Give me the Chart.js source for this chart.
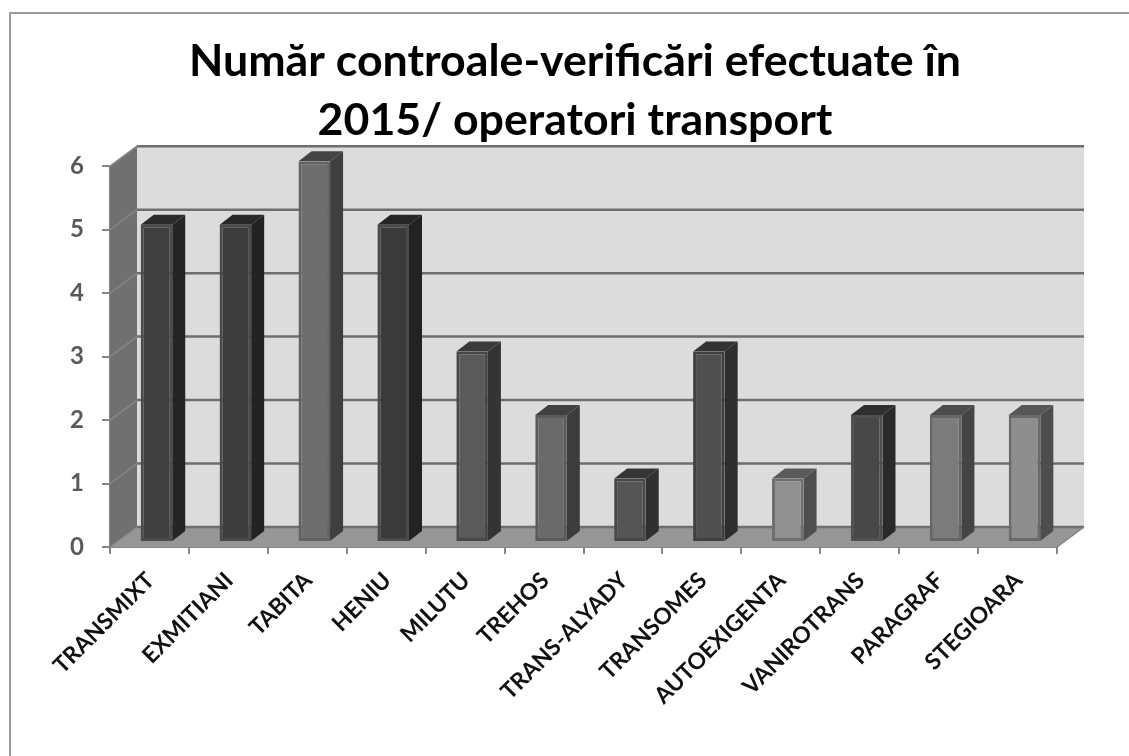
<!DOCTYPE html>
<html>
<head>
<meta charset="utf-8">
<script src="https://cdn.jsdelivr.net/npm/chart.js@4"></script>
<style>
body { margin: 0; background: #fff; }
#wrap { width: 1129px; height: 756px; }
</style>
</head>
<body>
<div id="wrap"><canvas id="operatori" width="1129" height="756"></canvas></div>
<script>
const operatori = ["TRANSMIXT", "EXMITIANI", "TABITA", "HENIU", "MILUTU", "TREHOS", "TRANS-ALYADY", "TRANSOMES", "AUTOEXIGENTA", "VANIROTRANS", "PARAGRAF", "STEGIOARA"];
const controale = [5, 5, 6, 5, 3, 2, 1, 3, 1, 2, 2, 2];
const titleLines = ["Număr controale-verificări efectuate în", "2015/ operatori transport"];

// one grey per bar, the original has them all different
const barFront = ["#404040", "#3c3c3c", "#6e6e6e", "#3a3a3a", "#5a5a5a", "#6a6a6a", "#555555", "#505050", "#919191", "#484848", "#7c7c7c", "#8e8e8e"];
const barSide = ["#252525", "#232323", "#3f3f3f", "#222222", "#343434", "#3c3c3c", "#303030", "#2e2e2e", "#4f4f4f", "#2a2a2a", "#444444", "#4d4d4d"];
const barTop = ["#2a2a2a", "#282828", "#444444", "#262626", "#3a3a3a", "#414141", "#353535", "#333333", "#5a5a5a", "#2f2f2f", "#4c4c4c", "#575757"];
const barEdge = ["#4c4c4c", "#4a4a4a", "#626262", "#4a4a4a", "#484848", "#5a5a5a", "#484848", "#404040", "#6e6e6e", "#505050", "#666666", "#6a6a6a"];

// how far the walls go back, and how far bars sit off the front plane
const wall = { dx: 27, dy: -20 };
const barShift = { dx: 7, dy: -5 };
const barDepth = { dx: 13, dy: -10 };

function poly(ctx, pts, fill) {
  ctx.beginPath();
  ctx.moveTo(pts[0][0], pts[0][1]);
  for (let i = 1; i < pts.length; i++) ctx.lineTo(pts[i][0], pts[i][1]);
  ctx.closePath();
  ctx.fillStyle = fill;
  ctx.fill();
}

const box3d = {
  id: "box3d",
  afterLayout(chart) {
    // y axis box is narrow because of the title padding, widen it or the labels get clipped
    chart.scales.y.left = 40;
  },
  beforeDraw(chart) {
    // frame of the picture, only top and left are visible in the crop
    const ctx = chart.ctx;
    ctx.save();
    ctx.strokeStyle = "#9a9a9a";
    ctx.lineWidth = 2;
    ctx.beginPath();
    ctx.moveTo(10, chart.height);
    ctx.lineTo(10, 13);
    ctx.lineTo(chart.width, 13);
    ctx.stroke();
    ctx.restore();
  },
  beforeDatasetsDraw(chart) {
    const ctx = chart.ctx;
    const a = chart.chartArea;
    const y = chart.scales.y;
    const d = wall;
    ctx.save();
    // back wall, left wall, floor
    poly(ctx, [[a.left + d.dx, a.top + d.dy], [a.right + d.dx, a.top + d.dy], [a.right + d.dx, a.bottom + d.dy], [a.left + d.dx, a.bottom + d.dy]], "#dcdcdc");
    poly(ctx, [[a.left, a.top], [a.left + d.dx, a.top + d.dy], [a.left + d.dx, a.bottom + d.dy], [a.left, a.bottom]], "#707070");
    poly(ctx, [[a.left, a.bottom], [a.left + d.dx, a.bottom + d.dy], [a.right + d.dx, a.bottom + d.dy], [a.right, a.bottom]], "#969696");
    // grid on the walls
    y.ticks.forEach(t => {
      const py = y.getPixelForValue(t.value);
      ctx.strokeStyle = "#868686";
      ctx.lineWidth = 1.5;
      ctx.beginPath();
      ctx.moveTo(a.left, py);
      ctx.lineTo(a.left + d.dx, py + d.dy);
      ctx.stroke();
      ctx.strokeStyle = "#6e6e6e";
      ctx.lineWidth = 2.5;
      ctx.beginPath();
      ctx.moveTo(a.left + d.dx, py + d.dy);
      ctx.lineTo(a.right + d.dx, py + d.dy);
      ctx.stroke();
    });
    // floor outline on the right
    ctx.strokeStyle = "#868686";
    ctx.lineWidth = 1.5;
    ctx.beginPath();
    ctx.moveTo(a.right, a.bottom);
    ctx.lineTo(a.right + d.dx, a.bottom + d.dy);
    ctx.stroke();

    // bars get drawn by chart.js, sides and tops go in first
    ctx.translate(barShift.dx, barShift.dy);
    chart.getDatasetMeta(0).data.forEach((bar, i) => {
      const l = bar.x - bar.width / 2;
      const r = bar.x + bar.width / 2;
      const q = barDepth;
      poly(ctx, [[r, bar.y], [r + q.dx, bar.y + q.dy], [r + q.dx, bar.base + q.dy], [r, bar.base]], barSide[i]);
      poly(ctx, [[l, bar.y], [l + q.dx, bar.y + q.dy], [r + q.dx, bar.y + q.dy], [r, bar.y]], barTop[i]);
    });
  },
  afterDatasetsDraw(chart) {
    chart.ctx.restore();
  }
};

new Chart(document.getElementById("operatori"), {
  type: "bar",
  data: {
    labels: operatori,
    datasets: [{
      data: controale,
      backgroundColor: barFront,
      borderColor: barEdge,
      borderWidth: 3,
      borderSkipped: false,
      categoryPercentage: 1,
      barPercentage: 0.4
    }]
  },
  options: {
    responsive: false,
    animation: false,
    // left padding pushes the title's centre to where it sits in the picture
    layout: { padding: { top: 33, right: 72, left: 93, bottom: 0 } },
    plugins: {
      legend: { display: false },
      tooltip: { enabled: false },
      title: {
        display: true,
        text: titleLines,
        color: "#000",
        font: { family: "Lato", size: 44.7, weight: "bold", lineHeight: 1.3 },
        padding: { top: 0, bottom: 17 }
      }
    },
    scales: {
      x: {
        afterFit(s) { s.height = 209; },
        border: { color: "#868686", width: 2 },
        grid: { offset: true, drawOnChartArea: false, color: "#868686", lineWidth: 2, tickLength: 7 },
        ticks: {
          autoSkip: false, minRotation: 45, maxRotation: 45, padding: 13,
          labelOffset: 1,
          color: "#111",
          font: { family: "Lato", size: 22.8, weight: "bold" }
        }
      },
      y: {
        min: 0,
        max: 6,
        afterFit(s) { s.width = 17; },
        border: { color: "#868686", width: 2 },
        grid: { drawOnChartArea: false, color: "#868686", lineWidth: 2, tickLength: 8 },
        ticks: {
          stepSize: 1, padding: 18,
          color: "#595959",
          font: { family: "Lato", size: 24, weight: "bold" }
        }
      }
    }
  },
  plugins: [box3d]
});
</script>
</body>
</html>
